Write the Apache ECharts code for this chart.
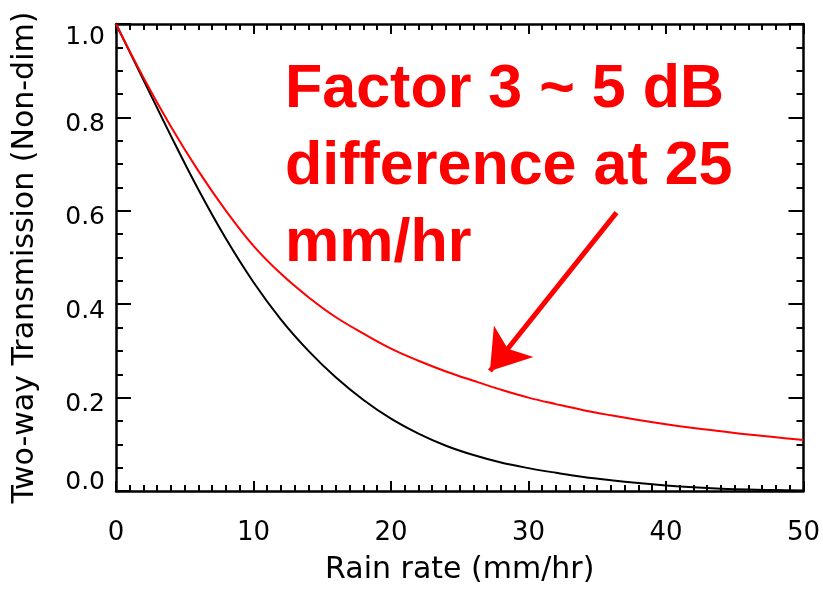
<!DOCTYPE html>
<html>
<head>
<meta charset="utf-8">
<script src="https://cdn.jsdelivr.net/npm/echarts@6/dist/echarts.min.js"></script>
<style>
  html, body { margin: 0; padding: 0; background: #fff; }
  #rainChart { width: 823px; height: 590px; }
</style>
</head>
<body>
<div id="rainChart"></div>
<script>
// rain rate (mm/hr)
var rainRate = [0, 2, 4, 6, 8, 10, 12, 14, 16, 18, 20, 22, 24, 26, 28, 30, 32, 34, 36, 38, 40, 42, 44, 46, 48, 50]
// two-way transmission, black curve
var transBlack = [1.0, 0.88, 0.76, 0.645, 0.54, 0.447, 0.367, 0.30, 0.243, 0.195, 0.155, 0.123, 0.097, 0.077, 0.061, 0.049, 0.039, 0.030, 0.023, 0.017, 0.012, 0.008, 0.005, 0.003, 0.002, 0.001]
// two-way transmission, red curve
var transRed = [1.0, 0.885, 0.78, 0.685, 0.60, 0.525, 0.465, 0.415, 0.372, 0.337, 0.305, 0.279, 0.256, 0.236, 0.217, 0.20, 0.186, 0.173, 0.162, 0.152, 0.143, 0.135, 0.128, 0.121, 0.115, 0.109]
// annotation
var noteLines = ['Factor 3 ~ 5 dB', 'difference at 25', 'mm/hr']
var arrowFrom = [36.4, 0.596]
var arrowTo = [27.2, 0.257]

function pairs(xs, ys) {
  return xs.map(function (x, i) { return [x, ys[i]] })
}

var chart = echarts.init(document.getElementById('rainChart'))

var labelFont = 'DejaVu Sans'
var tickStyle = { color: '#000', width: 2 }

function xAxisOf(pos, showLabel) {
  return {
    type: 'value',
    position: pos,
    min: 0,
    max: 50,
    interval: 10,
    name: showLabel ? 'Rain rate (mm/hr)' : '',
    nameLocation: 'middle',
    nameGap: 64,
    nameTextStyle: { color: '#000', fontSize: 30, fontFamily: labelFont },
    axisLine: { show: true, onZero: false, lineStyle: { color: '#000', width: 2.5 } },
    axisTick: { show: true, inside: true, length: 10, lineStyle: tickStyle },
    minorTick: { show: true, splitNumber: 10, length: 6, lineStyle: tickStyle },
    splitLine: { show: false },
    axisLabel: {
      show: showLabel,
      margin: 29,
      color: '#000',
      fontSize: 26,
      fontFamily: labelFont
    }
  }
}

function yAxisOf(pos, showLabel) {
  return {
    type: 'value',
    position: pos,
    min: 0,
    max: 1,
    interval: 0.2,
    name: showLabel ? 'Two-way Transmission (Non-dim)' : '',
    nameLocation: 'middle',
    nameGap: 76,
    nameTextStyle: { color: '#000', fontSize: 30, fontFamily: labelFont },
    axisLine: { show: true, onZero: false, lineStyle: { color: '#000', width: 2.5 } },
    axisTick: { show: true, inside: true, length: 15, lineStyle: tickStyle },
    minorTick: { show: true, splitNumber: 4, length: 7, lineStyle: tickStyle },
    splitLine: { show: false },
    axisLabel: {
      show: showLabel,
      margin: 11,
      color: '#000',
      fontSize: 25,
      fontFamily: labelFont,
      formatter: function (v) {
        // end labels are pulled inward, the rest sit a bit below their tick
        var s = v.toFixed(1)
        if (v >= 1) return '{top|' + s + '}'
        if (v <= 0) return '{bot|' + s + '}'
        return '{mid|' + s + '}'
      },
      rich: {
        top: { padding: [26, 0, 0, 0], fontSize: 25, fontFamily: labelFont, color: '#000' },
        mid: { padding: [14, 0, 0, 0], fontSize: 25, fontFamily: labelFont, color: '#000' },
        bot: { padding: [0, 0, 18, 0], fontSize: 25, fontFamily: labelFont, color: '#000' }
      }
    }
  }
}

var option = {
  backgroundColor: '#fff',
  animation: false,
  grid: { left: 116, top: 24, right: 17, bottom: 97 },
  xAxis: [xAxisOf('bottom', true), xAxisOf('top', false)],
  yAxis: [yAxisOf('left', true), yAxisOf('right', false)],
  series: [
    {
      type: 'line',
      data: pairs(rainRate, transBlack),
      smooth: 0.4,
      showSymbol: false,
      lineStyle: { color: '#000', width: 2 }
    },
    {
      type: 'line',
      data: pairs(rainRate, transRed),
      smooth: 0.4,
      showSymbol: false,
      lineStyle: { color: '#ff0000', width: 2 },
      markLine: {
        silent: true,
        symbol: ['none', 'arrow'],
        symbolSize: 38,
        label: { show: false },
        lineStyle: { color: '#ff0000', width: 5, type: 'solid' },
        data: [[{ coord: arrowFrom }, { coord: arrowTo }]]
      }
    }
  ],
  graphic: noteLines.map(function (t, i) {
    return {
      type: 'text',
      left: 285,
      top: 60 + i * 77,
      style: {
        text: t,
        fill: '#ff0000',
        font: 'bold 61px "Liberation Sans", Arial, sans-serif'
      }
    }
  })
}

chart.setOption(option)
</script>
</body>
</html>
